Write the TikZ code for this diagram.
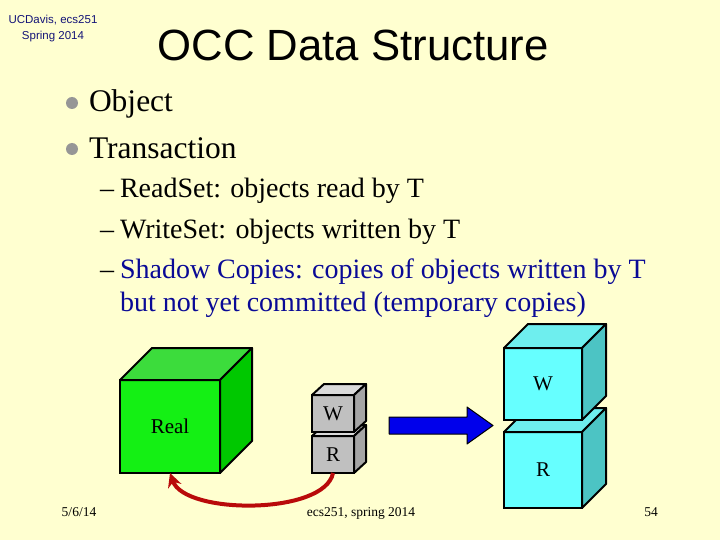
\documentclass[tikz,border=0pt]{standalone}
\usepackage{fontspec}
\setmainfont{Liberation Serif}
\newfontfamily\headfont{Liberation Sans}
\usetikzlibrary{arrows.meta}

\definecolor{slidebg}{RGB}{255,255,208}
\definecolor{navytext}{RGB}{20,20,120}
\definecolor{shadowblue}{RGB}{10,10,150}
\definecolor{bulletgrey}{RGB}{150,150,150}
\definecolor{greenfront}{RGB}{20,240,20}
\definecolor{greentop}{RGB}{60,220,60}
\definecolor{greenside}{RGB}{0,200,0}
\definecolor{greyfront}{RGB}{192,192,192}
\definecolor{greytop}{RGB}{218,218,218}
\definecolor{greyside}{RGB}{165,165,165}
\definecolor{cyanfront}{RGB}{102,255,255}
\definecolor{cyantop}{RGB}{110,238,238}
\definecolor{cyanside}{RGB}{76,196,196}
\definecolor{arrowblue}{RGB}{0,0,235}
\definecolor{copyred}{RGB}{185,10,10}

\begin{document}
\begin{tikzpicture}[x=1pt,y=-1pt,
    every node/.style={inner sep=0pt,outer sep=0pt},
    corner/.style={font=\headfont\fontsize{11.5}{13}\selectfont,text=navytext},
    slidetitle/.style={font=\headfont\fontsize{43.7}{50}\selectfont},
    big/.style={font=\fontsize{31.5}{36}\selectfont,anchor=base west},
    sub/.style={font=\fontsize{28}{32}\selectfont,anchor=base west},
    foot/.style={font=\fontsize{13.5}{16}\selectfont,anchor=base},
    bulletdot/.style={circle,fill=bulletgrey,minimum size=12pt},
    facebox/.style={draw=black,line width=2pt,font=\fontsize{21}{24}\selectfont},
    faceline/.style={draw=black,line width=2pt,line join=round},
    copyback/.style={draw=copyred,line width=4pt,-{Stealth[length=14pt,width=14pt]}}]
  \fill[slidebg] (0,0) rectangle (720,540);
  \useasboundingbox (0,0) rectangle (720,540);

  % header
  \node[corner] (course) at (53,20) {UCDavis, ecs251};
  \node[corner] (term) at (53,37) {Spring 2014};
  \node[slidetitle,anchor=base] (title) at (353,61) {OCC Data Structure};

  % bullets
  \node[bulletdot] (b1) at (72,103) {};
  \node[big] (object) at (89,112) {Object};
  \node[bulletdot] (b2) at (72,149) {};
  \node[big] (trans) at (89,159) {Transaction};

  \node[sub] (d1) at (100,198) {--};
  \node[sub] (readset) at (120,198) {ReadSet: objects read by T};
  \node[sub] (d2) at (100,238) {--};
  \node[sub] (writeset) at (120,238) {WriteSet: objects written by T};
  \node[sub] (d3) at (100,278) {--};
  \node[sub,text=shadowblue] (shadow1) at (120,278) {Shadow Copies: copies of objects written by T};
  \node[sub,text=shadowblue] (shadow2) at (120,311) {but not yet committed (temporary copies)};

  % real object
  \node[facebox,fill=greenfront,minimum width=100,minimum height=93] (real) at (170,426.5) {Real};
  \filldraw[faceline,fill=greentop] (real.north west) -- ++(32,-32) -- ++(100,0) -- (real.north east) -- cycle;
  \filldraw[faceline,fill=greenside] (real.north east) -- ++(32,-32) -- ++(0,93) -- (real.south east) -- cycle;

  % read and write sets
  \node[facebox,fill=greyfront,minimum width=42,minimum height=37] (rgrey) at (333,454.5) {R};
  \filldraw[faceline,fill=greytop] (rgrey.north west) -- ++(12,-11) -- ++(42,0) -- (rgrey.north east) -- cycle;
  \filldraw[faceline,fill=greyside] (rgrey.north east) -- ++(12,-11) -- ++(0,37) -- (rgrey.south east) -- cycle;
  \node[facebox,fill=greyfront,minimum width=42,minimum height=37] (wgrey) at (333,413.5) {W};
  \filldraw[faceline,fill=greytop] (wgrey.north west) -- ++(12,-11) -- ++(42,0) -- (wgrey.north east) -- cycle;
  \filldraw[faceline,fill=greyside] (wgrey.north east) -- ++(12,-11) -- ++(0,37) -- (wgrey.south east) -- cycle;

  % shadow copies
  \node[facebox,fill=cyanfront,minimum width=78,minimum height=76] (rcyan) at (543,470) {R};
  \filldraw[faceline,fill=cyantop] (rcyan.north west) -- ++(24,-24) -- ++(78,0) -- (rcyan.north east) -- cycle;
  \filldraw[faceline,fill=cyanside] (rcyan.north east) -- ++(24,-24) -- ++(0,76) -- (rcyan.south east) -- cycle;
  \node[facebox,fill=cyanfront,minimum width=78,minimum height=72] (wcyan) at (543,384) {W};
  \filldraw[faceline,fill=cyantop] (wcyan.north west) -- ++(24,-24) -- ++(78,0) -- (wcyan.north east) -- cycle;
  \filldraw[faceline,fill=cyanside] (wcyan.north east) -- ++(24,-24) -- ++(0,72) -- (wcyan.south east) -- cycle;

  % block arrow
  \filldraw[fill=arrowblue,draw=black,line width=1pt,line join=round]
    (389,417) -- (467,417) -- (467,407) -- (493,425.5) -- (467,444) -- (467,434) -- (389,434) -- cycle;

  % copy back on commit
  \draw[copyback] (rgrey.south) .. controls (325,515) and (185,515) .. (real.south);

  % footer
  \node[foot] (date) at (79,516) {5/6/14};
  \node[foot] (course2) at (361,516) {ecs251, spring 2014};
  \node[foot] (page) at (651,516) {54};
\end{tikzpicture}
\end{document}
